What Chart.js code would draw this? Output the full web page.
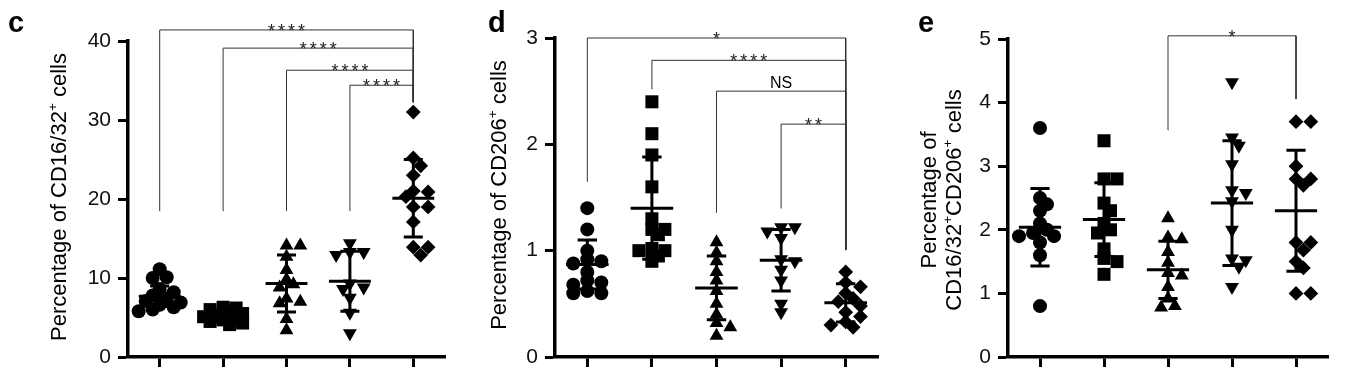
<!DOCTYPE html>
<html><head><meta charset="utf-8">
<script src="https://cdn.jsdelivr.net/npm/chart.js@4/dist/chart.umd.min.js"></script>
<style>
html,body{margin:0;padding:0;background:#fff;width:1365px;height:382px;overflow:hidden}
canvas{position:absolute;top:0}
</style></head><body>
<canvas id="c" width="455" height="382" style="left:0px"></canvas>
<canvas id="d" width="450" height="382" style="left:455px"></canvas>
<canvas id="e" width="460" height="382" style="left:905px"></canvas>
<script>
// ---------- data ----------
const categories = ['1', '2', '3', '4', '5'];

// panel c : Percentage of CD16/32+ cells
const cG1 = [11.1, 10.1, 10.0, 8.6, 8.2, 7.8, 7.4, 7.1, 6.9, 6.6, 6.3, 6.0, 5.8];
const cG2 = [6.3, 6.2, 6.0, 5.8, 5.5, 5.3, 5.1, 4.9, 4.7, 4.5, 4.3, 4.1];
const cG3 = [14.1, 14.1, 12.7, 11.0, 9.8, 9.2, 8.8, 7.4, 7.0, 6.8, 4.8, 3.4];
const cG4 = [14.4, 13.3, 13.3, 12.9, 9.3, 8.8, 8.6, 7.5, 5.6, 3.0];
const cG5 = [31.0, 25.2, 24.2, 23.0, 21.0, 20.9, 20.3, 19.0, 19.0, 17.1, 13.9, 13.9, 12.9];
const cMeans = [7.7, 5.1, 9.3, 9.6, 20.1];
const cSDs = [1.3, 0.7, 3.6, 3.8, 4.9];
const cTicks = [0, 10, 20, 30, 40];
// [from, to, level, left leg end, right leg end, label]
const cBrackets = [
  [0, 4, 41.4, 18.5, 32.3, '****'],
  [1, 4, 39.1, 18.5, 32.3, '****'],
  [2, 4, 36.3, 18.5, 32.3, '****'],
  [3, 4, 34.4, 18.5, 32.3, '****']
];

// panel d : Percentage of CD206+ cells
const dG1 = [1.40, 1.20, 1.00, 0.92, 0.90, 0.88, 0.80, 0.72, 0.70, 0.68, 0.62, 0.60, 0.60];
const dG2 = [2.40, 2.10, 1.90, 1.60, 1.30, 1.20, 1.20, 1.15, 1.02, 1.00, 1.00, 0.95, 0.90];
const dG3 = [1.08, 0.98, 0.90, 0.80, 0.72, 0.62, 0.50, 0.40, 0.32, 0.28, 0.20];
const dG4 = [1.22, 1.22, 1.18, 1.12, 0.92, 0.90, 0.82, 0.72, 0.50, 0.42];
const dG5 = [0.80, 0.70, 0.66, 0.60, 0.55, 0.52, 0.48, 0.42, 0.38, 0.33, 0.30, 0.28];
const dMeans = [0.87, 1.40, 0.65, 0.91, 0.51];
const dSDs = [0.23, 0.48, 0.30, 0.29, 0.18];
const dTicks = [0, 1, 2, 3];
const dBrackets = [
  [0, 4, 3.00, 1.65, 1.01, '*'],
  [1, 4, 2.79, 2.52, 1.01, '****'],
  [2, 4, 2.50, 1.36, 1.01, 'NS'],
  [3, 4, 2.19, 1.40, 1.01, '**']
];

// panel e : Percentage of CD16/32+CD206+ cells
const eG1 = [3.6, 2.5, 2.4, 2.3, 2.1, 2.0, 1.95, 1.9, 1.9, 1.8, 1.6, 0.8];
const eG2 = [3.4, 2.8, 2.8, 2.42, 2.3, 2.1, 2.0, 1.95, 1.7, 1.55, 1.5, 1.3];
const eG3 = [2.18, 1.88, 1.85, 1.65, 1.48, 1.32, 1.28, 1.1, 0.92, 0.8, 0.78];
const eG4 = [4.32, 3.45, 3.32, 3.03, 2.62, 2.58, 2.45, 2.0, 1.55, 1.52, 1.42, 1.1];
const eG5 = [3.7, 3.7, 3.0, 2.8, 2.8, 2.7, 1.8, 1.8, 1.68, 1.5, 1.4, 1.0, 1.0];
const eMeans = [2.04, 2.16, 1.37, 2.42, 2.30];
const eSDs = [0.61, 0.58, 0.45, 0.98, 0.95];
const eTicks = [0, 1, 2, 3, 4, 5];
const eBrackets = [
  [2, 4, 5.05, 3.57, 4.06, '*']
];

// ---------- styling ----------
const FONT = '"Liberation Sans", Arial, Helvetica, sans-serif';
const markerStyle = ['circle', 'rect', 'triangle', 'triangle', 'rectRot'];
const markerRot = [0, 0, 0, 180, 0];
const markerRad = [7, 9.2, 8, 8, 7.4];
const markerDiam = [14, 13, 13.8, 13.8, 14.8];

function makePanel(id, P) {
  const el = document.getElementById(id);
  const W = el.width, H = el.height;
  const datasets = [];
  const meanPts = [], sdPts = [];
  P.means.forEach((m, i) => {
    const s = P.sds[i];
    meanPts.push({x: i - 0.33, y: m}, {x: i + 0.33, y: m}, {x: i, y: null});
    sdPts.push({x: i, y: m - s}, {x: i, y: m + s}, {x: i, y: null},
               {x: i - 0.15, y: m + s}, {x: i + 0.15, y: m + s}, {x: i, y: null},
               {x: i - 0.15, y: m - s}, {x: i + 0.15, y: m - s}, {x: i, y: null});
  });
  const lineBase = {type: 'line', pointRadius: 0, pointHoverRadius: 0, spanGaps: false, fill: false,
                    borderCapStyle: 'butt', tension: 0};
  datasets.push(Object.assign({}, lineBase, {data: meanPts, borderColor: '#000', borderWidth: 3}));
  datasets.push(Object.assign({}, lineBase, {data: sdPts, borderColor: '#000', borderWidth: 3}));
  P.groups.forEach((vals, gi) => {
    datasets.push({
      type: 'scatter', data: vals.map(v => ({x: gi, y: v})),
      pointStyle: markerStyle[gi], pointRotation: markerRot[gi],
      pointRadius: markerRad[gi], pointHoverRadius: markerRad[gi],
      pointBackgroundColor: '#000', backgroundColor: '#000', pointBorderWidth: 0, borderWidth: 0,
      clip: false
    });
  });
  const brPts = [];
  P.brackets.forEach(b => {
    brPts.push({x: b[0], y: b[3]}, {x: b[0], y: b[2]}, {x: b[1], y: b[2]}, {x: b[1], y: b[4]}, {x: b[1], y: null});
  });
  datasets.push(Object.assign({}, lineBase, {data: brPts, borderColor: '#333', borderWidth: 1, borderCapStyle: 'square', clip: false}));

  const gridOpt = {drawOnChartArea: false, drawTicks: true, tickLength: 10, tickWidth: 3, tickColor: '#000', color: '#000'};
  const borderOpt = {display: true, width: 3.5, color: '#000'};

  const txt = {
    id: 'txt_' + id,
    afterDraw(chart) {
      const ctx = chart.ctx;
      const xs = chart.scales.x, ys = chart.scales.y;
      ctx.save();
      ctx.fillStyle = '#000';
      ctx.font = 'bold 29px ' + FONT;
      ctx.textAlign = 'left'; ctx.textBaseline = 'alphabetic';
      ctx.fillText(P.letter, P.letterX, 32);
      P.title.forEach((parts, li) => {
        ctx.save();
        ctx.translate(P.titleX[li], P.titleY);
        ctx.rotate(-Math.PI / 2);
        const size = 22;
        let w = 0;
        parts.forEach(p => { ctx.font = (p.sup ? size * 0.62 : size) + 'px ' + FONT; w += ctx.measureText(p.t).width; });
        let x = -w / 2;
        parts.forEach(p => {
          ctx.font = (p.sup ? size * 0.62 : size) + 'px ' + FONT;
          ctx.fillText(p.t, x, p.sup ? -size * 0.4 : 0);
          x += ctx.measureText(p.t).width;
        });
        ctx.restore();
      });
      P.brackets.forEach(b => {
        const cx = (xs.getPixelForValue(b[0]) + xs.getPixelForValue(b[1])) / 2;
        const yy = ys.getPixelForValue(b[2]);
        ctx.textAlign = 'center';
        if (b[5] === 'NS') {
          ctx.font = '16px ' + FONT; ctx.fillStyle = '#000';
          ctx.letterSpacing = '0px';
          ctx.fillText(b[5], cx, yy - 3);
        } else {
          ctx.font = '18px ' + FONT; ctx.fillStyle = '#222';
          ctx.letterSpacing = '3px';
          ctx.fillText(b[5], cx + 1.5, yy + 7);
          ctx.letterSpacing = '0px';
        }
      });
      ctx.restore();
    }
  };

  const chart = new Chart(el, {
    data: {datasets},
    options: {
      responsive: false, animation: false, devicePixelRatio: 1, events: [],
      layout: {padding: {left: 0, top: P.area.t, right: W - P.area.r, bottom: 0}},
      plugins: {legend: {display: false}, tooltip: {enabled: false}},
      scales: {
        x: {
          type: 'linear', min: -0.5, max: 4.5,
          afterBuildTicks: s => { s.ticks = categories.map((c, i) => ({value: i})); },
          afterFit: s => { s.height = H - P.area.b; },
          ticks: {display: false},
          grid: gridOpt, border: borderOpt
        },
        y: {
          type: 'linear', min: 0, max: P.ticks[P.ticks.length - 1],
          afterBuildTicks: s => { s.ticks = P.ticks.map(v => ({value: v})); },
          afterFit: s => { s.width = P.area.l; },
          ticks: {font: {family: FONT, size: 21}, color: '#111', padding: 7},
          grid: gridOpt, border: borderOpt
        }
      }
    },
    plugins: [txt]
  });

  // beeswarm layout computed through the scales
  const xs = chart.scales.x, ys = chart.scales.y;
  const pxPerX = xs.getPixelForValue(1) - xs.getPixelForValue(0);
  P.groups.forEach((vals, gi) => {
    const D = markerDiam[gi];
    const step = D * 0.5, minD = D * 0.6, maxOff = D * 1.5;
    const order = vals.map((v, i) => i).sort((a, b) => vals[b] - vals[a]);
    const placed = [], off = new Array(vals.length).fill(0);
    order.forEach(i => {
      const py = ys.getPixelForValue(vals[i]);
      let best = 0, bestScore = -1;
      for (let k = 0; k < 60; k++) {
        const cand = k === 0 ? 0 : (k % 2 ? 1 : -1) * Math.ceil(k / 2) * step;
        if (Math.abs(cand) > maxOff) break;
        const dmin = placed.reduce((a, p) => Math.min(a, Math.hypot(p.x - cand, p.y - py)), 1e9);
        if (dmin >= minD) { best = cand; bestScore = 1e9; break; }
        if (dmin > bestScore) { bestScore = dmin; best = cand; }
      }
      off[i] = best; placed.push({x: best, y: py});
    });
    chart.data.datasets[2 + gi].data = vals.map((v, i) => ({x: gi + off[i] / pxPerX, y: v}));
  });
  chart.update('none');
}

makePanel('c', {
  groups: [cG1, cG2, cG3, cG4, cG5], means: cMeans, sds: cSDs, ticks: cTicks, brackets: cBrackets,
  area: {l: 128, t: 41, r: 445, b: 357},
  letter: 'c', letterX: 8,
  title: [[{t: 'Percentage of CD16/32'}, {t: '+', sup: true}, {t: ' cells'}]],
  titleX: [66], titleY: 197
});
makePanel('d', {
  groups: [dG1, dG2, dG3, dG4, dG5], means: dMeans, sds: dSDs, ticks: dTicks, brackets: dBrackets,
  area: {l: 100, t: 38, r: 423, b: 357},
  letter: 'd', letterX: 33,
  title: [[{t: 'Percentage of CD206'}, {t: '+', sup: true}, {t: ' cells'}]],
  titleX: [51], titleY: 195
});
makePanel('e', {
  groups: [eG1, eG2, eG3, eG4, eG5], means: eMeans, sds: eSDs, ticks: eTicks, brackets: eBrackets,
  area: {l: 103, t: 39, r: 423, b: 357},
  letter: 'e', letterX: 13,
  title: [[{t: 'Percentage of'}],
          [{t: 'CD16/32'}, {t: '+', sup: true}, {t: 'CD206'}, {t: '+', sup: true}, {t: ' cells'}]],
  titleX: [31, 56], titleY: 200
});
</script>
</body></html>
